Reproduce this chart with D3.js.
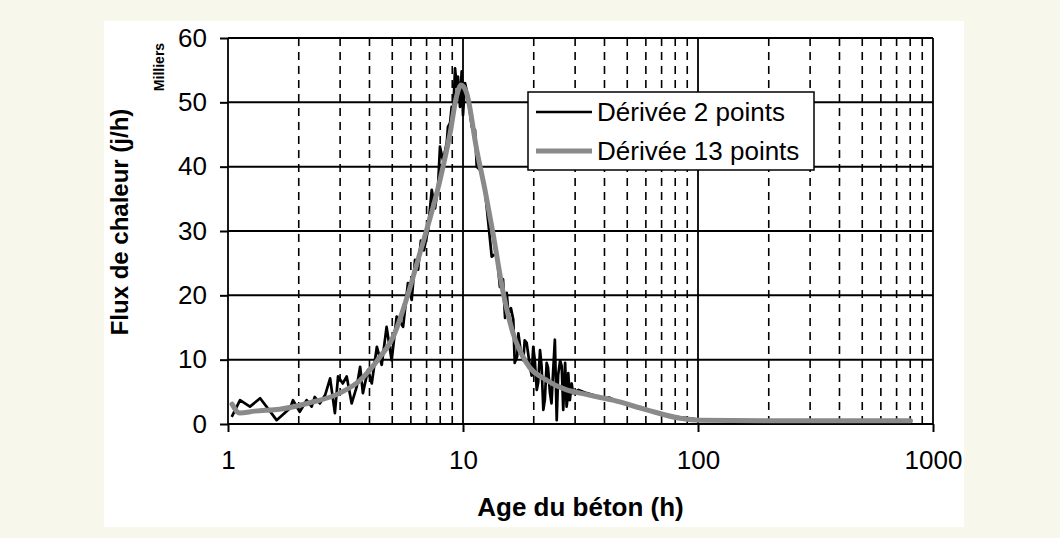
<!DOCTYPE html>
<html>
<head>
<meta charset="utf-8">
<script src="https://cdn.jsdelivr.net/npm/d3@7"></script>
<style>
  body { margin: 0; background: #f7f7eb; }
  svg { display: block; font-family: "Liberation Sans", Arial, sans-serif; }
</style>
</head>
<body>
<svg id="mainChart" width="1060" height="538"></svg>
<script>
// Dérivée 2 points (h, milliers de j/h)
const ageRaw = [1.037, 1.125, 1.24, 1.37, 1.48, 1.61, 1.84, 1.89, 2.02, 2.16, 2.27, 2.34, 2.46, 2.59,
  2.72, 2.85, 2.94, 3.08, 3.20, 3.36, 3.53, 3.65, 3.75, 3.94, 4.09, 4.30, 4.51, 4.73, 4.97, 5.22,
  5.56, 5.83, 6.05, 6.25, 6.44, 6.62, 6.82, 7.10, 7.36, 7.60, 7.83, 7.98, 8.22, 8.53, 8.63, 8.81,
  8.95, 9.06, 9.25, 9.40, 9.52, 9.71, 9.87, 10.0, 10.2, 10.5, 10.9, 11.25, 11.44, 11.81, 12.17,
  12.4, 12.82, 13.25, 13.9, 14.36, 14.8, 15.35, 15.6, 16.0, 16.37, 16.6, 17.2, 17.65, 18.06, 18.66,
  19.28, 19.9, 20.6, 21.27, 21.97, 22.7, 23.45, 24.2, 24.6, 25.05, 25.9, 26.7, 27.2, 27.6, 28.05,
  28.5, 29.0, 29.4, 31, 33, 35, 38, 40, 42, 45, 50, 55, 60, 65, 70, 80, 90, 100, 110, 125, 140,
  15.1, 17.0, 18.3, 19.6, 20.2, 20.9, 21.6, 22.3, 23.0, 23.8, 25.4, 26.3, 27.9];
const fluxRaw = [1.1, 3.7, 2.7, 4.0, 2.4, 0.6, 2.5, 3.7, 1.9, 3.7, 2.7, 4.2, 3.2, 4.5,
  7.1, 1.7, 7.4, 6.3, 7.4, 3.2, 5.8, 8.9, 4.8, 8.4, 6.3, 12.0, 9.2, 15.1, 9.9, 16.7,
  15.1, 21.9, 19.3, 25.5, 24.0, 28.5, 27.0, 30.2, 36.4, 33.5, 36.9, 43.1, 41.0, 43.7, 46.2, 46.8,
  49.3, 47.5, 55.3, 52.4, 54.0, 49.3, 54.8, 48.0, 53.0, 50.9, 46.2, 45.7, 40.0, 39.5, 38.0,
  36.4, 31.2, 26.0, 26.6, 21.3, 22.5, 20.4, 17.2, 18.0, 16.2, 9.5, 14.1, 11.0, 9.9, 12.6,
  8.9, 12.0, 5.3, 11.5, 2.2, 9.5, 4.8, 8.4, 13.1, 0.6, 9.9, 2.2, 9.5, 2.7, 7.9,
  3.7, 6.3, 4.8, 5.3, 4.9, 4.6, 4.2, 4.0, 4.1, 3.5, 3.1, 2.6, 2.3, 1.9, 1.6, 1.1, 0.9, 0.7, 0.7, 0.6, 0.5,
  16.5, 10.5, 13.0, 7.5, 10.0, 6.5, 9.0, 3.8, 8.8, 3.2, 7.6, 9.0, 4.2];

// Dérivée 13 points
const ageSmooth = [1.04, 1.12, 1.3, 1.66, 2.23, 2.99, 3.65, 4.43, 5.04, 5.78, 6.56, 7.98, 8.81, 9.38,
  9.83, 10.37, 11.44, 12.4, 13.41, 14.83, 16.33, 18.63, 22.7, 27.6, 31.5, 43.5, 60.5, 83.9, 101.7, 224, 802];
const fluxSmooth = [3.1, 1.7, 2.0, 2.3, 3.3, 4.8, 6.8, 10.4, 13.5, 19.7, 26.6, 37.9, 45.2, 50.9,
  52.7, 51.4, 42.6, 36.4, 29.7, 20.4, 14.1, 9.5, 6.8, 5.3, 4.8, 3.7, 2.2, 0.9, 0.6, 0.5, 0.5];

const yTicks = [0, 10, 20, 30, 40, 50, 60];
const xTicks = [1, 10, 100, 1000];
const seriesNames = ["Dérivée 2 points", "Dérivée 13 points"];

const svg = d3.select("svg#mainChart");
const attr = { left: 228, right: 933, top: 38, bottom: 424 };

svg.append("rect")
  .attr("x", 104).attr("y", 21)
  .attr("width", 860).attr("height", 506)
  .style("fill", "#fff");

const scaleX = d3.scaleLog().domain([1, 1000]).range([attr.left, attr.right]);
const scaleY = d3.scaleLinear().domain([0, 60]).range([attr.bottom, attr.top]);

// grille
const minor = [];
[1, 10, 100].forEach(dec => { for (let k = 2; k <= 9; k++) minor.push(dec * k); });

svg.append("g").selectAll("line")
  .data(minor).enter().append("line")
  .attr("x1", d => scaleX(d)).attr("x2", d => scaleX(d))
  .attr("y1", attr.top).attr("y2", attr.bottom)
  .style("stroke", "#000").style("stroke-width", 1.6)
  .style("stroke-dasharray", "8,6");

svg.append("g").selectAll("line")
  .data(xTicks).enter().append("line")
  .attr("x1", d => scaleX(d)).attr("x2", d => scaleX(d))
  .attr("y1", attr.top).attr("y2", attr.bottom)
  .style("stroke", "#000").style("stroke-width", 1.8);

svg.append("g").selectAll("line")
  .data(yTicks).enter().append("line")
  .attr("x1", attr.left).attr("x2", attr.right)
  .attr("y1", d => scaleY(d)).attr("y2", d => scaleY(d))
  .style("stroke", "#000").style("stroke-width", 2);

// axes
const axisY = d3.axisLeft(scaleY).tickValues(yTicks).tickSize(8).tickPadding(13);
const gy = svg.append("g").attr("transform", `translate(${attr.left},0)`).call(axisY);
gy.select(".domain").remove();

const axisX = d3.axisBottom(scaleX).tickValues(xTicks).tickFormat(d3.format("d")).tickSize(8).tickPadding(19);
const gx = svg.append("g").attr("transform", `translate(0,${attr.bottom})`).call(axisX);
gx.select(".domain").remove();

[gx, gy].forEach(g => {
  g.selectAll("line").style("stroke", "#000").style("stroke-width", 2);
  g.selectAll("text")
    .style("font-size", "26px")
    .style("fill", "#000")
    .style("font-family", "'Liberation Sans', Arial, sans-serif");
});

// courbes
const rawData = ageRaw.map((t, i) => ({ t, v: fluxRaw[i] })).sort((a, b) => a.t - b.t);
const smoothData = ageSmooth.map((t, i) => ({ t, v: fluxSmooth[i] }));

svg.append("path")
  .datum(rawData)
  .attr("fill", "none")
  .attr("stroke", "#000")
  .attr("stroke-width", 2.7)
  .attr("stroke-linejoin", "round")
  .attr("d", d3.line().x(d => scaleX(d.t)).y(d => scaleY(d.v)));

svg.append("path")
  .datum(smoothData)
  .attr("fill", "none")
  .attr("stroke", "#8a8a8a")
  .attr("stroke-width", 5)
  .attr("stroke-linecap", "round")
  .attr("d", d3.line().curve(d3.curveMonotoneX).x(d => scaleX(d.t)).y(d => scaleY(d.v)));

// titres
svg.append("text")
  .attr("x", (attr.left + attr.right) / 2)
  .attr("y", 516)
  .attr("text-anchor", "middle")
  .style("font-size", "26px")
  .style("font-weight", "bold")
  .text("Age du béton (h)");

svg.append("text")
  .attr("transform", "rotate(-90)")
  .attr("x", -222)
  .attr("y", 128)
  .attr("text-anchor", "middle")
  .style("font-size", "24px")
  .style("font-weight", "bold")
  .text("Flux de chaleur (j/h)");

svg.append("text")
  .attr("transform", "rotate(-90)")
  .attr("x", -67)
  .attr("y", 164)
  .attr("text-anchor", "middle")
  .style("font-size", "14px")
  .style("font-weight", "bold")
  .text("Milliers");

// légende
const lg = svg.append("g");
lg.append("rect")
  .attr("x", 528).attr("y", 92)
  .attr("width", 286).attr("height", 78)
  .style("fill", "#fff").style("stroke", "#000").style("stroke-width", 1.5);

const legendItems = [
  { label: seriesNames[0], color: "#000", width: 2.5, y: 112 },
  { label: seriesNames[1], color: "#8a8a8a", width: 5, y: 151 }
];
legendItems.forEach(item => {
  lg.append("line")
    .attr("x1", 536).attr("x2", 592)
    .attr("y1", item.y).attr("y2", item.y)
    .style("stroke", item.color).style("stroke-width", item.width);
  lg.append("text")
    .attr("x", 597).attr("y", item.y + 9)
    .style("font-size", "26px")
    .text(item.label);
});
</script>
</body>
</html>
